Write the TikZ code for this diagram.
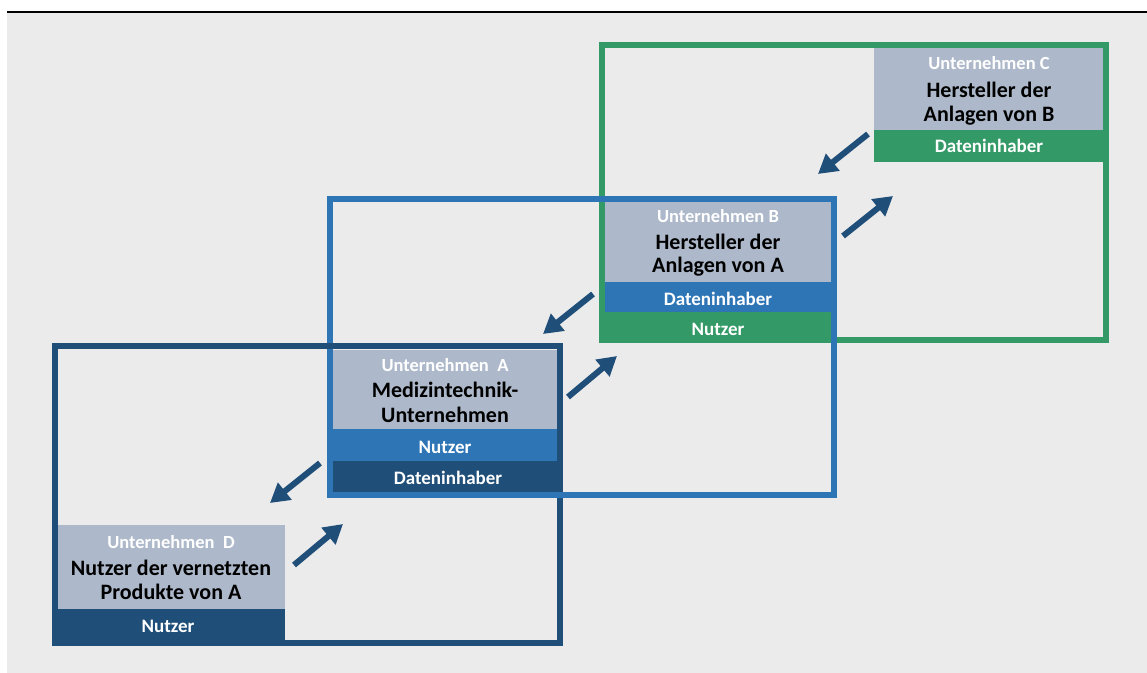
\documentclass[tikz,border=0pt]{standalone}
\usepackage{fontspec}
\setmainfont{Carlito}
\usetikzlibrary{arrows.meta}
\definecolor{bgC}{HTML}{EBEBEB}
\definecolor{grayC}{HTML}{ADB9CA}
\definecolor{greenC}{HTML}{339966}
\definecolor{blueC}{HTML}{2E75B6}
\definecolor{darkC}{HTML}{1F4E79}
\tikzset{
  frame/.style={draw, line width=6pt, inner sep=0pt, outer sep=0pt, anchor=north west},
  boxr/.style={inner sep=0pt, outer sep=0pt, anchor=north west, draw=none},
  ulabel/.style={anchor=base, inner sep=0pt, text=white, font=\bfseries\fontsize{18.5}{21}\selectfont},
  tlabel/.style={anchor=base, inner sep=0pt, text=black, font=\bfseries\fontsize{22}{25}\selectfont},
  blabel/.style={anchor=base, inner sep=0pt, text=white, font=\bfseries\fontsize{19}{22}\selectfont},
  flow/.style={draw=darkC, line width=6pt, -{Triangle[length=19pt,width=21pt]}}
}
\begin{document}
\begin{tikzpicture}[x=1pt,y=-1pt]
\useasboundingbox (0,0) rectangle (1147,672);
\fill[white] (0,0) rectangle (1147,672);
\fill[bgC] (7,13) rectangle (1150,676);
\draw[line width=2pt] (7,12) -- (1147,12);

% green frame and company C
\node[frame, draw=greenC, minimum width=504pt, minimum height=295pt] (Gframe) at (602,45) {};
\node[boxr, fill=grayC, minimum width=229pt, minimum height=82pt] (Cg) at (874,48) {};
\node[boxr, fill=greenC, minimum width=229pt, minimum height=32pt] (Cd) at (874,130) {};
\node[ulabel] (Ct1) at (989,69) {Unternehmen C};
\node[tlabel] (Ct2) at (989,97) {Hersteller der};
\node[tlabel] (Ct3) at (989,121) {Anlagen von B};
\node[blabel] (Ct4) at (989,152) {Dateninhaber};

% company B
\node[boxr, fill=grayC, minimum width=226pt, minimum height=80pt] (Bg) at (605,202) {};
\node[boxr, fill=blueC, minimum width=226pt, minimum height=30pt] (Bd) at (605,282) {};
\node[boxr, fill=greenC, minimum width=232pt, minimum height=31pt] (Bn) at (599,312) {};

% blue frame
\node[frame, draw=blueC, minimum width=504pt, minimum height=296pt] (Bframe) at (330,199) {};

\node[ulabel] (Bt1) at (718,222) {Unternehmen B};
\node[tlabel] (Bt2) at (718,249) {Hersteller der};
\node[tlabel] (Bt3) at (718,272) {Anlagen von A};
\node[blabel] (Bt4) at (718,305) {Dateninhaber};
\node[blabel] (Bt5) at (718,335) {Nutzer};

% company A
\node[boxr, fill=grayC, minimum width=224pt, minimum height=79pt] (Ag) at (333,350) {};
\node[boxr, fill=blueC, minimum width=230pt, minimum height=32pt] (An) at (327,429) {};

% dark frame
\node[frame, draw=darkC, minimum width=505pt, minimum height=297pt] (Dframe) at (55,346) {};

\node[boxr, fill=darkC, minimum width=230pt, minimum height=31pt] (Ad) at (333,461) {};
\draw[blueC, line width=6pt] ([xshift=-3pt]Bframe.south west) -- ([xshift=3pt]Bframe.south east);

\node[ulabel] (At1) at (445,371) {Unternehmen~~A};
\node[tlabel] (At2) at (445,397) {Medizintechnik-};
\node[tlabel] (At3) at (445,422) {Unternehmen};
\node[blabel] (At4) at (445,453) {Nutzer};
\node[blabel] (At5) at (448,484) {Dateninhaber};

% company D
\node[boxr, fill=grayC, minimum width=227pt, minimum height=84pt] (Dg) at (58,525) {};
\node[boxr, fill=darkC, minimum width=233pt, minimum height=37pt] (Dn) at (52,609) {};
\node[ulabel] (Dt1) at (171,548) {Unternehmen~~D};
\node[tlabel] (Dt2) at (171,575) {Nutzer der vernetzten};
\node[tlabel] (Dt3) at (171,599) {Produkte von A};
\node[blabel] (Dt4) at (168,632) {Nutzer};

% arrows
\coordinate (a1s) at (868,134); \coordinate (a1e) at (818,174);
\coordinate (a2s) at (843,236); \coordinate (a2e) at (893,196);
\coordinate (a3s) at (593,294); \coordinate (a3e) at (543,334);
\coordinate (a4s) at (568,397); \coordinate (a4e) at (617,356);
\coordinate (a5s) at (320,463); \coordinate (a5e) at (270,503);
\coordinate (a6s) at (294,565); \coordinate (a6e) at (343,524);
\draw[flow] (a1s) -- (a1e);
\draw[flow] (a2s) -- (a2e);
\draw[flow] (a3s) -- (a3e);
\draw[flow] (a4s) -- (a4e);
\draw[flow] (a5s) -- (a5e);
\draw[flow] (a6s) -- (a6e);
\end{tikzpicture}
\end{document}
